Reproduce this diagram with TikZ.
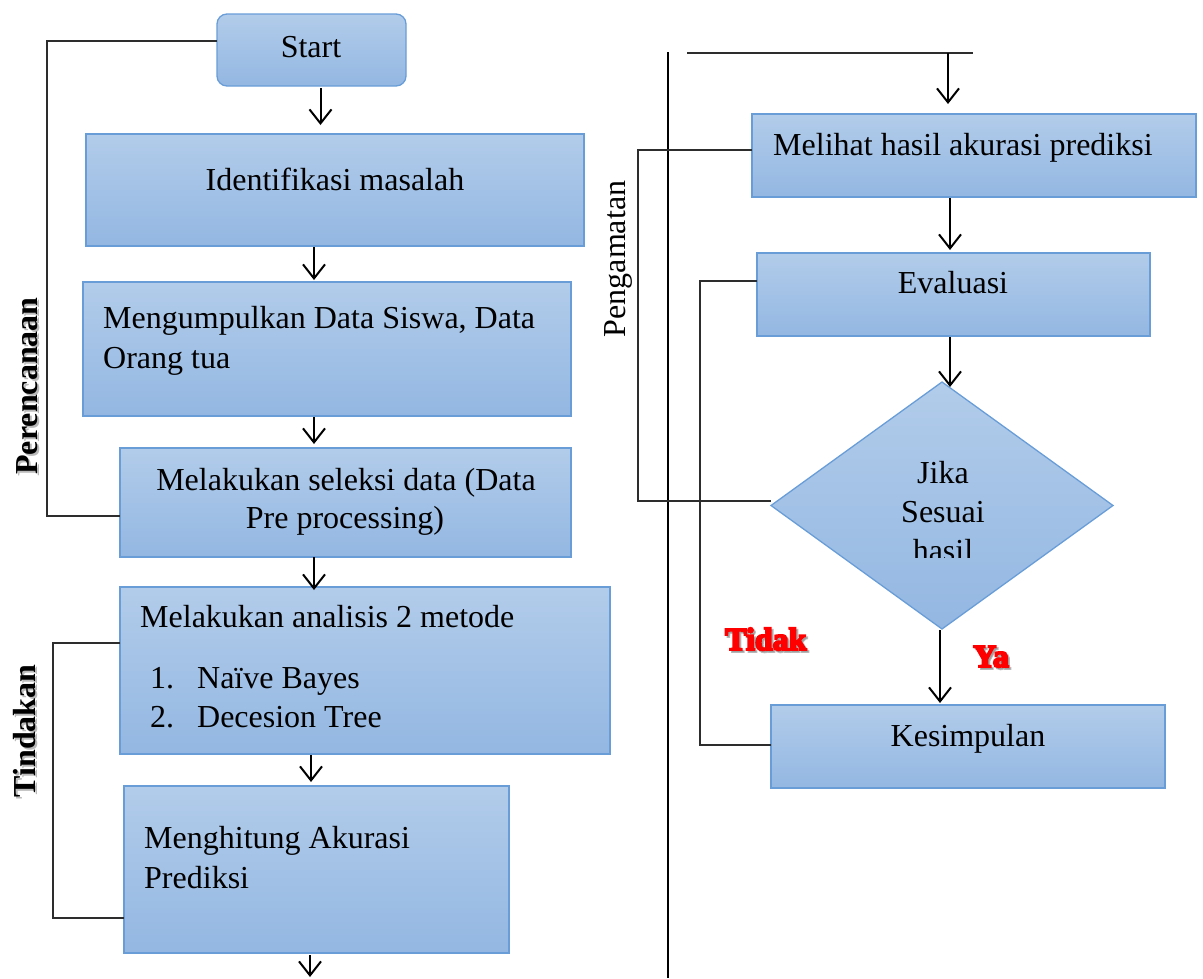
\documentclass[tikz,border=0pt]{standalone}
\usepackage{fontspec}
\setmainfont{Liberation Serif}
\newfontfamily\heavyserif[FakeBold=6]{Liberation Serif Bold}
\usetikzlibrary{arrows.meta,shapes.geometric,calc}
\definecolor{boxtop}{RGB}{178,204,234}
\definecolor{boxbot}{RGB}{147,183,226}
\definecolor{boxline}{RGB}{105,157,216}
\definecolor{linegray}{RGB}{45,45,45}
\tikzset{
  box/.style={draw=boxline, line width=1.3pt, top color=boxtop, bottom color=boxbot,
              inner sep=0pt, outer sep=0pt, anchor=north west},
  txt/.style={inner sep=0pt, font=\fontsize{32}{40}\selectfont},
  flow/.style={draw=black, line width=2pt,
               -{Straight Barb[length=14pt,width=22pt,line width=2pt]}},
  brk/.style={draw=linegray, line width=1.3pt},
  tag/.style={inner sep=0pt, font=\fontsize{32}{40}\selectfont\bfseries, rotate=90, anchor=base},
  answer/.style={inner sep=0pt, font=\fontsize{32}{40}\selectfont\heavyserif, text=red, anchor=base west},
  shade/.style={text=black!45, opacity=0.6},
}
\begin{document}
\begin{tikzpicture}[x=1pt, y=-1pt]
\useasboundingbox (0,0) rectangle (1203,978);

% ---------- left column: boxes ----------
\node[box, rounded corners=10pt, minimum width=189pt, minimum height=72pt] (start) at (217,14) {};
\node[box, minimum width=498pt, minimum height=112pt] (ident) at (86,134) {};
\node[box, minimum width=488pt, minimum height=134pt] (collect) at (83,282) {};
\node[box, minimum width=451pt, minimum height=109pt] (select) at (120,448) {};
\node[box, minimum width=490pt, minimum height=167pt] (analyse) at (120,587) {};
\node[box, minimum width=385pt, minimum height=167pt] (count) at (124,786) {};

% ---------- right column: boxes ----------
\node[box, minimum width=444pt, minimum height=83pt] (observe) at (752,114) {};
\node[box, minimum width=393pt, minimum height=83pt] (evaluate) at (757,253) {};
\node[diamond, draw=boxline, line width=1.3pt, top color=boxtop, bottom color=boxbot,
      inner sep=0pt, outer sep=0pt, aspect=1.385,
      minimum width=342pt, minimum height=247pt] (decide) at (942,505.5) {};
\node[box, minimum width=394pt, minimum height=83pt] (conclude) at (771,705) {};

% ---------- texts ----------
\node[txt, anchor=base] (t-start) at (311,57) {Start};
\node[txt, anchor=base] (t-ident) at (335,190) {Identifikasi masalah};
\node[txt, anchor=base west] (t-collect1) at (103,328) {Mengumpulkan Data Siswa, Data};
\node[txt, anchor=base west] (t-collect2) at (103,368) {Orang tua};
\node[txt, anchor=base] (t-select1) at (346,490) {Melakukan seleksi data (Data};
\node[txt, anchor=base] (t-select2) at (345,528) {Pre processing)};
\node[txt, anchor=base west] (t-analyse) at (140,627) {Melakukan analisis 2 metode};
\node[txt, anchor=base west] (t-item1) at (150,688) {\makebox[47pt][l]{1.}Naïve Bayes};
\node[txt, anchor=base west] (t-item2) at (150,727) {\makebox[47pt][l]{2.}Decesion Tree};
\node[txt, anchor=base west] (t-count1) at (144,848) {Menghitung Akurasi};
\node[txt, anchor=base west] (t-count2) at (144,888) {Prediksi};

\node[txt, anchor=base west] (t-observe) at (773,155) {Melihat hasil akurasi prediksi};
\node[txt, anchor=base] (t-evaluate) at (953,293) {Evaluasi};
\node[txt, anchor=base] (t-decide1) at (943,483) {Jika};
\node[txt, anchor=base] (t-decide2) at (943,522) {Sesuai};
\begin{scope}
  \clip (860,530) rectangle (1030,557);
  \node[txt, anchor=base] (t-decide3) at (943,561) {hasil};
\end{scope}
\node[txt, anchor=base] (t-conclude) at (968,746) {Kesimpulan};

% ---------- flow arrows ----------
\draw[flow, shorten <=2pt, shorten >=9pt] ([xshift=9pt]start.south) -- ([xshift=9pt]start.south |- ident.north);
\draw[flow, shorten <=1pt, shorten >=2pt] ([xshift=-21pt]ident.south) -- ([xshift=-21pt]ident.south |- collect.north);
\draw[flow, shorten <=1pt, shorten >=4pt] ([xshift=-13pt]collect.south) -- ([xshift=-13pt]collect.south |- select.north);
\draw[flow, shorten >=-3pt] ([xshift=-31.5pt]select.south) -- ([xshift=-31.5pt]select.south |- analyse.north);
\draw[flow, shorten <=1pt, shorten >=4pt] ([xshift=-54pt]analyse.south) -- ([xshift=-54pt]analyse.south |- count.north);
\coordinate (leftend) at (310,977);
\draw[flow, shorten <=2pt] ([xshift=-6.5pt]count.south) -- ([xshift=-6.5pt]count.south |- leftend);

\coordinate (divtop) at (668,52);
\coordinate (divbot) at (668,978);
\draw[black, line width=1.3pt] (divtop) -- (divbot);
\coordinate (feedL) at (687,53);
\coordinate (feedR) at (973,53);
\coordinate (drop) at (948,53);
\draw[brk] (feedL) -- (feedR);
\draw[flow, shorten >=10pt] (drop) -- (drop |- observe.north);
\draw[flow, shorten <=1pt, shorten >=3pt] ([xshift=-24pt]observe.south) -- ([xshift=-24pt]observe.south |- evaluate.north);
\draw[flow, shorten <=1pt, shorten >=-5pt] ([xshift=-3.5pt]evaluate.south) -- ([xshift=-3.5pt]evaluate.south |- decide.north);
\draw[flow, shorten <=1pt, shorten >=2pt] ([xshift=-2pt]decide.south) -- ([xshift=-2pt]decide.south |- conclude.north);

% ---------- phase brackets ----------
\coordinate (planL) at (47,516);
\draw[brk] ([yshift=9pt]start.west) -| (planL) |- ([yshift=-13.5pt]select.west);
\coordinate (actL) at (53,918);
\draw[brk] ([yshift=27.5pt]analyse.west) -| (actL) |- ([yshift=-48.5pt]count.west);
\coordinate (obsL) at (638,501);
\draw[brk] ([yshift=5.5pt]observe.west) -| (obsL) |- ([yshift=4.5pt]decide.west);
\coordinate (evalL) at (700,745);
\draw[brk] ([yshift=13.5pt]evaluate.west) -| (evalL) |- ([yshift=1.5pt]conclude.west);

% ---------- phase labels ----------
\node[tag, shade] (plan-shade) at (39,388) {Perencanaan};
\node[tag] (plan) at (37,386) {Perencanaan};
\node[tag, shade] (act-shade) at (37,733) {Tindakan};
\node[tag] (act) at (35,731) {Tindakan};
\node[tag, font=\fontsize{32}{40}\selectfont] (obs) at (625,259) {Pengamatan};

% ---------- decision answers ----------
\node[answer, shade] (no-shade) at (727,652) {Tidak};
\node[answer] (no) at (725,650) {Tidak};
\node[answer, shade] (yes-shade) at (975,669) {Ya};
\node[answer] (yes) at (973,667) {Ya};
\end{tikzpicture}
\end{document}
